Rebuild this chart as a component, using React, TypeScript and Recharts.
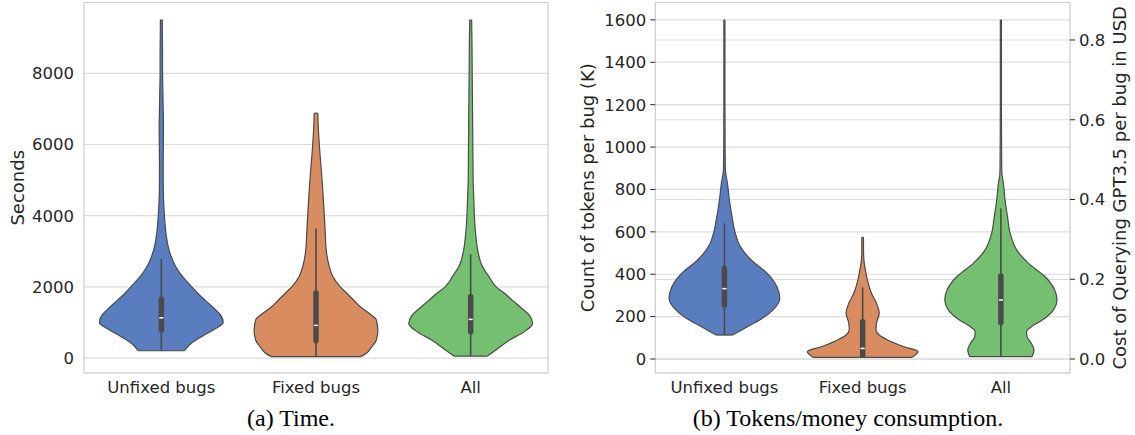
import React from "react";
import {
  ComposedChart,
  Area,
  XAxis,
  YAxis,
  CartesianGrid,
  ReferenceLine,
  ReferenceArea,
} from "recharts";

const categories = ["Unfixed bugs", "Fixed bugs", "All"];
const colors = ["#5a7dbf", "#d98c5f", "#75bf71"];

// violin outlines: [value, half width in category units]
const timeUnfixed = [
  [205, 0.15], [400, 0.19], [600, 0.26], [800, 0.34], [1000, 0.4], [1200, 0.385],
  [1400, 0.34], [1600, 0.29], [1800, 0.24], [2000, 0.197], [2300, 0.135], [2600, 0.089],
  [3000, 0.052], [3500, 0.03], [4000, 0.02], [4500, 0.014], [5000, 0.012], [5500, 0.012],
  [6000, 0.013], [6500, 0.014], [7000, 0.012], [7500, 0.01], [8000, 0.008], [8500, 0.008],
  [9000, 0.007], [9500, 0.006],
];
const timeFixed = [
  [40, 0.29], [150, 0.33], [317, 0.36], [500, 0.39], [780, 0.4], [1070, 0.39],
  [1250, 0.345], [1440, 0.287], [1630, 0.243], [1815, 0.2], [2000, 0.157], [2300, 0.108],
  [2600, 0.084], [3000, 0.067], [3500, 0.06], [4000, 0.054], [4500, 0.047], [4900, 0.041],
  [5400, 0.032], [5840, 0.024], [6300, 0.017], [6680, 0.013], [6880, 0.012],
];
const timeAll = [
  [56, 0.108], [250, 0.17], [500, 0.25], [750, 0.35], [974, 0.4], [1200, 0.38],
  [1400, 0.33], [1600, 0.276], [1800, 0.224], [2000, 0.165], [2300, 0.116], [2600, 0.073],
  [3000, 0.047], [3500, 0.032], [4000, 0.024], [4500, 0.02], [5000, 0.016], [6000, 0.014],
  [7000, 0.012], [8000, 0.01], [9000, 0.008], [9500, 0.006],
];
const timeWhiskers = [[205, 2780], [40, 3640], [56, 2920]];
const timeQuartiles = [[786, 1655], [486, 1830], [738, 1720]];
const timeMedians = [1131, 917, 1086];
const timeTicks = [0, 2000, 4000, 6000, 8000];

const tokenUnfixed = [
  [113, 0.06], [150, 0.16], [184, 0.255], [231, 0.35], [286, 0.4], [341, 0.38],
  [404, 0.31], [467, 0.194], [530, 0.115], [593, 0.079], [671, 0.055], [750, 0.036],
  [829, 0.022], [892, 0.007], [1000, 0.005], [1200, 0.004], [1400, 0.004], [1600, 0.004],
];
const tokenFixed = [
  [8, 0.36], [35, 0.4], [58, 0.3], [90, 0.18], [113, 0.12], [137, 0.097], [168, 0.1],
  [216, 0.12], [263, 0.1], [310, 0.064], [373, 0.034], [420, 0.02], [467, 0.009],
  [520, 0.006], [574, 0.006],
];
const tokenAll = [
  [11, 0.225], [42, 0.24], [74, 0.22], [105, 0.19], [129, 0.186], [152, 0.22],
  [184, 0.3], [231, 0.38], [278, 0.406], [325, 0.39], [388, 0.32], [451, 0.2],
  [514, 0.115], [593, 0.067], [671, 0.048], [750, 0.03], [829, 0.018], [876, 0.007],
  [1000, 0.005], [1200, 0.004], [1400, 0.004], [1600, 0.004],
];
const tokenWhiskers = [[113, 640], [8, 338], [11, 710]];
const tokenQuartiles = [[255, 428], [19, 176], [171, 392]];
const tokenMedians = [332, 50, 278];
const tokenTicks = [0, 200, 400, 600, 800, 1000, 1200, 1400, 1600];
const costTicks = [0, 0.2, 0.4, 0.6, 0.8];

const outline = "#4a4a4a";
const textColor = "#262626";
const gridColor = "#dcdcdc";
const font = "DejaVu Sans";

// rows for one violin: value and [left, right] edge around its category position
function violinRows(profile: number[][], i: number) {
  return profile.map(([v, w]) => ({ v, u: [i - w, i + w] }));
}

function violinMarks(
  profiles: number[][][],
  whiskers: number[][],
  quartiles: number[][],
  medians: number[],
  yAxisId: string,
  dash: number
) {
  const out: React.ReactNode[] = [];
  profiles.forEach((p, i) => {
    out.push(
      <Area
        key={"a" + i}
        yAxisId={yAxisId}
        data={violinRows(p, i)}
        dataKey="u"
        type="monotone"
        fill={colors[i]}
        fillOpacity={1}
        stroke={outline}
        strokeWidth={1.2}
        dot={false}
        activeDot={false}
        isAnimationActive={false}
      />
    );
    const first = p[0];
    const last = p[p.length - 1];
    [first, last].forEach(([v, w], k) =>
      out.push(
        <ReferenceLine
          key={"e" + i + k}
          yAxisId={yAxisId}
          segment={[{ x: i - w, y: v }, { x: i + w, y: v }]}
          stroke={outline}
          strokeWidth={1.2}
          ifOverflow="visible"
        />
      )
    );
  });
  whiskers.forEach(([lo, hi], i) =>
    out.push(
      <ReferenceLine
        key={"w" + i}
        yAxisId={yAxisId}
        segment={[{ x: i, y: lo }, { x: i, y: hi }]}
        stroke={outline}
        strokeWidth={1.6}
        ifOverflow="visible"
      />
    )
  );
  quartiles.forEach(([lo, hi], i) =>
    out.push(
      <ReferenceLine
        key={"q" + i}
        yAxisId={yAxisId}
        segment={[{ x: i, y: lo }, { x: i, y: hi }]}
        stroke={outline}
        strokeWidth={5.5}
        strokeLinecap="round"
        ifOverflow="visible"
      />
    )
  );
  medians.forEach((m, i) =>
    out.push(
      <ReferenceLine
        key={"m" + i}
        yAxisId={yAxisId}
        segment={[{ x: i - dash, y: m }, { x: i + dash, y: m }]}
        stroke="#ffffff"
        strokeWidth={1.5}
        ifOverflow="visible"
      />
    )
  );
  return out;
}

const tickStyle = { fill: textColor, fontSize: 16.5, fontFamily: font };
const timeDomain = [-420, 9990];
const tokenDomain = [-66, 1682];
const costDomain = [-0.035, 0.894];

// the twin cost axis spans the same plot height as the token axis
const costToTokens = (c: number) =>
  tokenDomain[0] +
  ((c - costDomain[0]) / (costDomain[1] - costDomain[0])) * (tokenDomain[1] - tokenDomain[0]);

function TimeChart() {
  return (
    <ComposedChart
      width={560}
      height={405}
      layout="vertical"
      margin={{ top: 2.5, right: 12, bottom: 0, left: 0 }}
      style={{ fontFamily: font }}
    >
      <CartesianGrid yAxisId="t" vertical={false} stroke={gridColor} strokeWidth={1.2} />
      <ReferenceArea
        yAxisId="t"
        x1={-0.5}
        x2={2.5}
        y1={timeDomain[0]}
        y2={timeDomain[1]}
        fill="none"
        stroke="#cccccc"
        strokeWidth={1.2}
        ifOverflow="visible"
      />
      <XAxis
        type="number"
        domain={[-0.5, 2.5]}
        ticks={[0, 1, 2]}
        tickFormatter={(v) => categories[v]}
        axisLine={false}
        tickLine={false}
        tick={tickStyle}
        height={32}
        tickMargin={2}
      />
      <YAxis
        yAxisId="t"
        type="number"
        dataKey="v"
        domain={timeDomain}
        ticks={timeTicks}
        allowDataOverflow
        reversed
        axisLine={false}
        tickLine={false}
        tick={tickStyle}
        tickMargin={4}
        width={84}
        label={{
          value: "Seconds",
          angle: -90,
          position: "insideLeft",
          offset: 18,
          style: { textAnchor: "middle" },
          fill: textColor,
          fontSize: 18,
          fontFamily: font,
        }}
      />
      {violinMarks(
        [timeUnfixed, timeFixed, timeAll],
        timeWhiskers,
        timeQuartiles,
        timeMedians,
        "t",
        0.013
      )}
    </ComposedChart>
  );
}

function TokenChart() {
  return (
    <ComposedChart
      width={575}
      height={405}
      layout="vertical"
      margin={{ top: 2.5, right: 0, bottom: 0, left: 0 }}
      style={{ fontFamily: font }}
    >
      <CartesianGrid yAxisId="k" vertical={false} stroke={gridColor} strokeWidth={1.2} />
      {costTicks.map((c) => (
        <ReferenceLine
          key={"cg" + c}
          yAxisId="k"
          segment={[
            { x: -0.5, y: costToTokens(c) },
            { x: 2.5, y: costToTokens(c) },
          ]}
          stroke={gridColor}
          strokeWidth={1.2}
          ifOverflow="visible"
          zIndex={-100}
        />
      ))}
      <ReferenceArea
        yAxisId="k"
        x1={-0.5}
        x2={2.5}
        y1={tokenDomain[0]}
        y2={tokenDomain[1]}
        fill="none"
        stroke="#cccccc"
        strokeWidth={1.2}
        ifOverflow="visible"
      />
      <XAxis
        type="number"
        domain={[-0.5, 2.5]}
        ticks={[0, 1, 2]}
        tickFormatter={(v) => categories[v]}
        axisLine={false}
        tickLine={false}
        tick={tickStyle}
        height={32}
        tickMargin={2}
      />
      <YAxis
        yAxisId="k"
        type="number"
        dataKey="v"
        domain={tokenDomain}
        ticks={tokenTicks}
        allowDataOverflow
        reversed
        axisLine={false}
        tickLine={{ stroke: textColor }}
        tickSize={5}
        tick={tickStyle}
        tickMargin={4}
        width={95.3}
        label={{
          value: "Count of tokens per bug (K)",
          angle: -90,
          position: "insideLeft",
          offset: 28,
          style: { textAnchor: "middle" },
          fill: textColor,
          fontSize: 18,
          fontFamily: font,
        }}
      />
      <YAxis
        yAxisId="c"
        orientation="right"
        type="number"
        dataKey="v"
        domain={costDomain}
        ticks={costTicks}
        allowDataOverflow
        reversed
        tickFormatter={(v) => v.toFixed(1)}
        axisLine={false}
        tickLine={{ stroke: textColor }}
        tickSize={5}
        tick={tickStyle}
        tickMargin={4}
        width={65}
        label={{
          value: "Cost of Querying GPT3.5 per bug in USD",
          angle: -90,
          position: "insideRight",
          offset: 15,
          style: { textAnchor: "middle" },
          fill: textColor,
          fontSize: 18,
          fontFamily: font,
        }}
      />
      {violinMarks(
        [tokenUnfixed, tokenFixed, tokenAll],
        tokenWhiskers,
        tokenQuartiles,
        tokenMedians,
        "k",
        0.015
      )}
    </ComposedChart>
  );
}

const captionStyle: React.CSSProperties = {
  position: "absolute",
  top: 405,
  fontFamily: "Liberation Serif",
  fontSize: 24,
  color: "#000",
  transform: "translateX(-50%)",
  whiteSpace: "nowrap",
};

export default function App() {
  return (
    <div
      style={{
        position: "absolute",
        left: 0,
        top: 0,
        width: 1135,
        height: 435,
        background: "#fff",
        overflow: "hidden",
      }}
    >
      <div style={{ position: "absolute", left: 0, top: 0 }}>
        <TimeChart />
      </div>
      <div style={{ position: "absolute", left: 560, top: 0 }}>
        <TokenChart />
      </div>
      <div style={{ ...captionStyle, left: 291 }}>(a) Time.</div>
      <div style={{ ...captionStyle, left: 848 }}>(b) Tokens/money consumption.</div>
    </div>
  );
}
